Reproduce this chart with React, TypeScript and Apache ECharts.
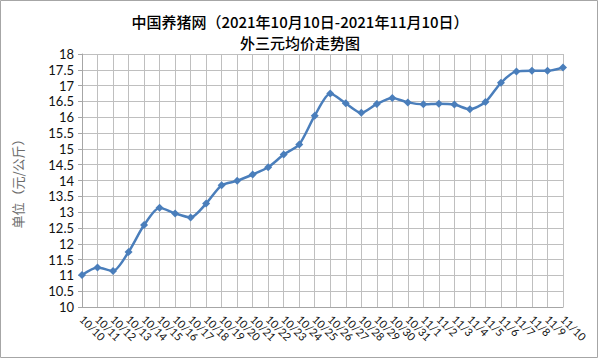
import React, { useEffect, useRef } from "react";
import * as echarts from "echarts";

const titleLine1 = "中国养猪网（2021年10月10日-2021年11月10日）";
const titleLine2 = "外三元均价走势图";
const yAxisName = "单位（元/公斤）";

const dates = [
  "10/10", "10/11", "10/12", "10/13", "10/14", "10/15", "10/16", "10/17",
  "10/18", "10/19", "10/20", "10/21", "10/22", "10/23", "10/24", "10/25",
  "10/26", "10/27", "10/28", "10/29", "10/30", "10/31", "11/1", "11/2",
  "11/3", "11/4", "11/5", "11/6", "11/7", "11/8", "11/9", "11/10",
];

const prices = [
  11.01, 11.25, 11.14, 11.74, 12.59, 13.14, 12.96, 12.83,
  13.27, 13.85, 13.99, 14.19, 14.42, 14.82, 15.14, 16.05,
  16.75, 16.44, 16.14, 16.42, 16.61, 16.47, 16.41, 16.43,
  16.40, 16.25, 16.48, 17.09, 17.45, 17.47, 17.47, 17.57,
];

const yMin = 10;
const yMax = 18;
const yStep = 0.5;

export default function App() {
  const ref = useRef<HTMLDivElement>(null);
  useEffect(() => {
    document.body.style.margin = "0";
    if (!ref.current) return;
    const chart = echarts.init(ref.current, null, { renderer: "svg" });
    chart.setOption({
      animation: false,
      backgroundColor: "#ffffff",
      title: {
        text: titleLine1 + "\n" + titleLine2,
        left: "center",
        top: 6,
        textStyle: {
          fontFamily: "Noto Sans CJK SC",
          fontSize: 15,
          fontWeight: 500,
          color: "#000",
          lineHeight: 21,
        },
      },
      graphic: [
        {
          type: "rect",
          shape: { x: 0.5, y: 0.5, width: 597, height: 357 },
          style: { fill: "none", stroke: "#a6a6a6", lineWidth: 1 },
          silent: true,
        },
      ],
      grid: { left: 82, right: 37, top: 54, bottom: 53 },
      xAxis: {
        type: "category",
        data: dates,
        boundaryGap: false,
        axisLine: { lineStyle: { color: "#a6a6a6" } },
        axisTick: { show: false },
        splitLine: { show: true, lineStyle: { color: "#bfbfbf", width: 1 } },
        axisLabel: {
          interval: 0,
          rotate: -45,
          margin: 10,
          fontFamily: "Lato",
          fontSize: 11,
          color: "#111",
        },
      },
      yAxis: {
        type: "value",
        min: yMin,
        max: yMax,
        interval: yStep,
        name: yAxisName,
        nameLocation: "middle",
        nameGap: 58,
        nameRotate: 90,
        nameTextStyle: {
          fontFamily: "Noto Sans CJK SC",
          fontSize: 13,
          color: "#6b6b6b",
        },
        axisLine: { show: true, lineStyle: { color: "#a6a6a6" } },
        axisTick: { show: true, length: 4, lineStyle: { color: "#a6a6a6" } },
        splitLine: { show: true, lineStyle: { color: "#bfbfbf", width: 1 } },
        axisLabel: {
          fontFamily: "Lato",
          fontSize: 13,
          color: "#111",
          margin: 8,
        },
      },
      series: [
        {
          type: "line",
          data: prices,
          smooth: 0.25,
          symbol: "diamond",
          symbolSize: 8,
          lineStyle: { color: "#4a7ebb", width: 2.5 },
          itemStyle: { color: "#4a7ebb" },
        },
      ],
    });
    return () => chart.dispose();
  }, []);
  return <div ref={ref} style={{ width: 600, height: 360, position: "absolute", left: 0, top: 0 }} />;
}
